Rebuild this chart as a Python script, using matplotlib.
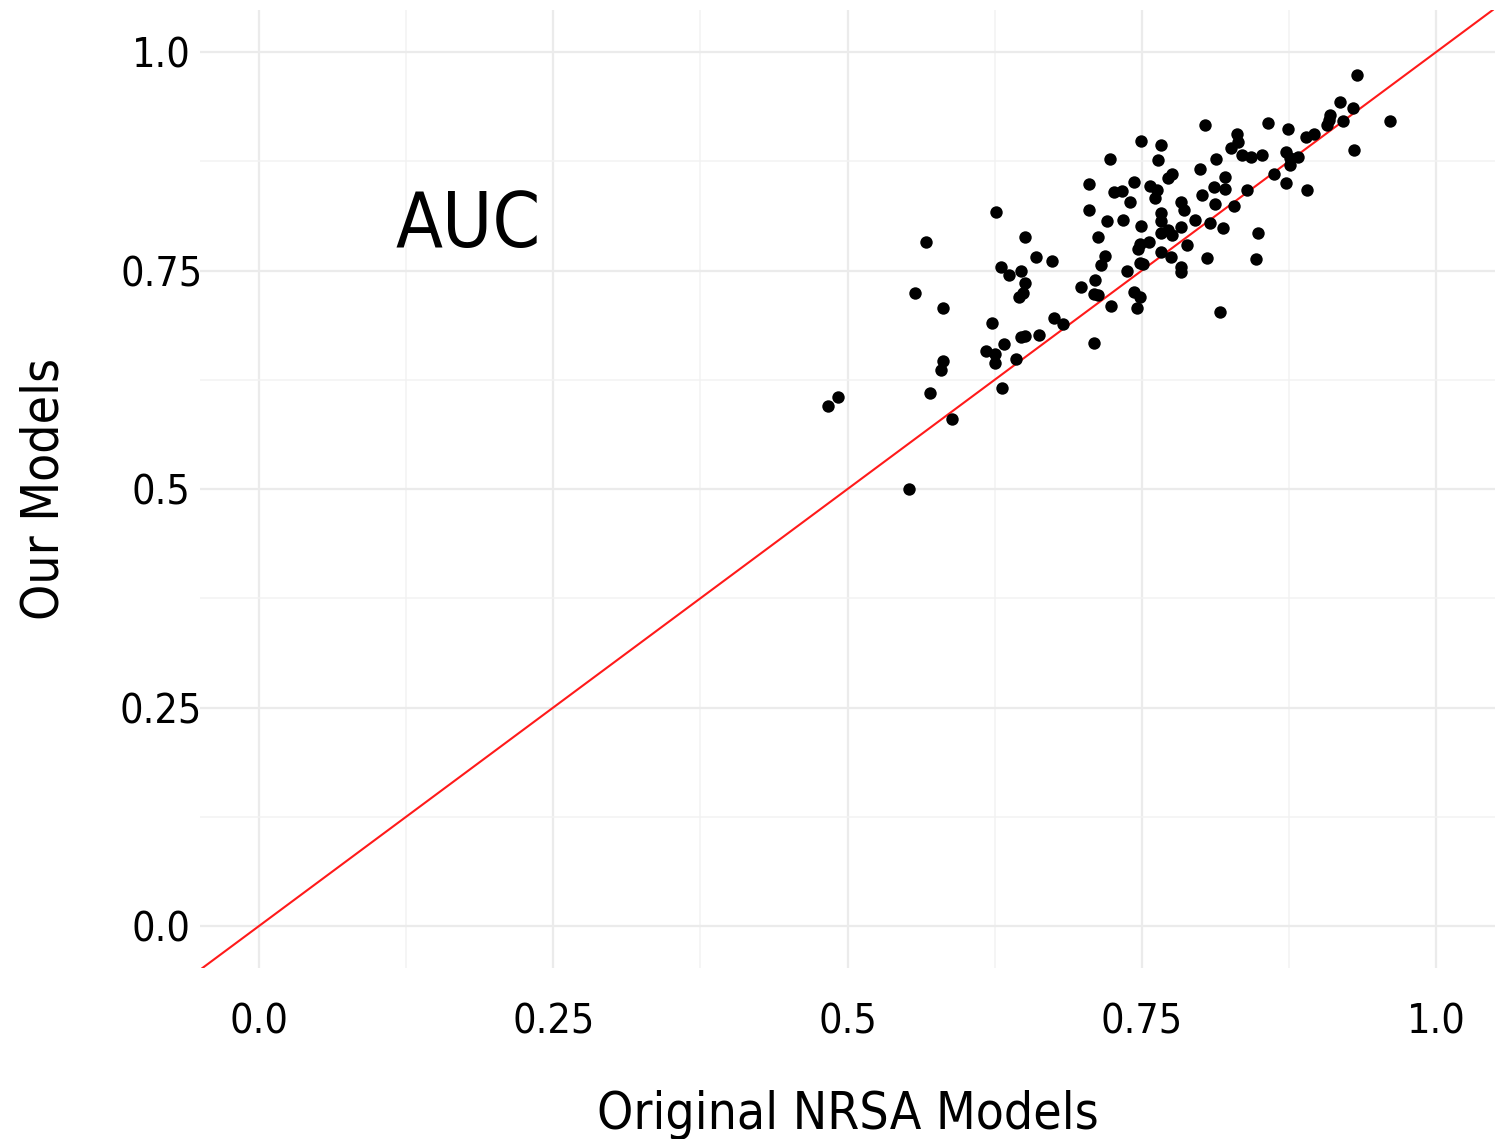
import matplotlib.pyplot as plt
from matplotlib.ticker import FixedLocator

plt.rcParams['font.family'] = 'DejaVu Sans'
plt.rcParams['font.stretch'] = 'condensed'

# AUC of the original NRSA models (x) vs. our models (y), one point per model
orig_auc = [
    0.483, 0.492, 0.552, 0.557, 0.567, 0.570, 0.581, 0.581, 0.579, 0.589,
    0.626, 0.651, 0.660, 0.674, 0.630, 0.637, 0.647, 0.651, 0.649, 0.646,
    0.623, 0.618, 0.625, 0.625, 0.633, 0.643, 0.647, 0.651, 0.663, 0.631,
    0.675, 0.683, 0.698, 0.709, 0.710, 0.713, 0.709, 0.705, 0.705, 0.713,
    0.723, 0.749, 0.766, 0.764, 0.743, 0.726, 0.733, 0.740, 0.757, 0.763,
    0.761, 0.772, 0.776, 0.720, 0.734, 0.749, 0.766, 0.766, 0.766, 0.772,
    0.776, 0.783, 0.783, 0.786, 0.795, 0.808, 0.819, 0.849, 0.719, 0.715,
    0.748, 0.747, 0.756, 0.766, 0.775, 0.788, 0.805, 0.847, 0.748, 0.751,
    0.737, 0.783, 0.783, 0.724, 0.743, 0.748, 0.746, 0.816, 0.801, 0.811,
    0.812, 0.821, 0.821, 0.828, 0.839, 0.799, 0.813, 0.804, 0.857, 0.874,
    0.831, 0.832, 0.826, 0.835, 0.843, 0.852, 0.872, 0.876, 0.883, 0.876,
    0.862, 0.872, 0.890, 0.889, 0.896, 0.910, 0.909, 0.907, 0.918, 0.929,
    0.921, 0.933, 0.961, 0.930,
]
our_auc = [
    0.595, 0.605, 0.500, 0.724, 0.783, 0.610, 0.707, 0.647, 0.636, 0.580,
    0.817, 0.788, 0.765, 0.761, 0.754, 0.745, 0.749, 0.736, 0.724, 0.720,
    0.690, 0.658, 0.655, 0.644, 0.666, 0.649, 0.674, 0.675, 0.676, 0.616,
    0.696, 0.689, 0.731, 0.667, 0.739, 0.722, 0.723, 0.849, 0.819, 0.788,
    0.878, 0.898, 0.894, 0.876, 0.851, 0.840, 0.841, 0.828, 0.847, 0.842,
    0.833, 0.856, 0.860, 0.807, 0.808, 0.801, 0.816, 0.807, 0.793, 0.796,
    0.791, 0.800, 0.828, 0.819, 0.808, 0.804, 0.799, 0.793, 0.767, 0.756,
    0.780, 0.775, 0.783, 0.771, 0.765, 0.779, 0.764, 0.763, 0.759, 0.757,
    0.749, 0.754, 0.748, 0.709, 0.725, 0.720, 0.707, 0.703, 0.836, 0.846,
    0.826, 0.857, 0.843, 0.824, 0.842, 0.866, 0.878, 0.917, 0.919, 0.912,
    0.906, 0.897, 0.890, 0.882, 0.880, 0.882, 0.886, 0.879, 0.880, 0.871,
    0.860, 0.850, 0.842, 0.903, 0.906, 0.928, 0.922, 0.917, 0.943, 0.936,
    0.921, 0.974, 0.921, 0.888,
]

# reference line y = x
line_intercept = 0.0
line_slope = 1.0

tick_values = [0.0, 0.25, 0.5, 0.75, 1.0]
tick_labels = ['0.0', '0.25', '0.5', '0.75', '1.0']
minor_values = [0.125, 0.375, 0.625, 0.875]

fig = plt.figure(figsize=(15.12, 11.39), dpi=100)
ax = fig.add_axes([0.1323, 0.1501, 0.8565, 0.8411])

ax.scatter(orig_auc, our_auc, s=80, color='black', linewidths=0, zorder=3)
ax.axline((0, line_intercept), slope=line_slope, color='#ff1a1a', linewidth=1.5, zorder=2)

ax.set_xlim(-0.05, 1.05)
ax.set_ylim(-0.048, 1.048)

ax.xaxis.set_major_locator(FixedLocator(tick_values))
ax.yaxis.set_major_locator(FixedLocator(tick_values))
ax.xaxis.set_minor_locator(FixedLocator(minor_values))
ax.yaxis.set_minor_locator(FixedLocator(minor_values))
ax.set_xticklabels(tick_labels)
ax.set_yticklabels(tick_labels)

ax.grid(which='major', color='#ebebeb', linewidth=1.6)
ax.grid(which='minor', color='#f2f2f2', linewidth=1.1)
ax.set_axisbelow(True)
for s in ax.spines.values():
    s.set_visible(False)

ax.tick_params(axis='both', which='both', length=0, labelsize=29.5, labelcolor='black')
ax.tick_params(axis='x', pad=25)
ax.tick_params(axis='y', pad=28)
for lbl in ax.get_yticklabels():
    lbl.set_horizontalalignment('center')

ax.set_xlabel('Original NRSA Models', fontsize=37, labelpad=34)
ax.set_ylabel('Our Models', fontsize=37, labelpad=36)

ax.text(0.178, 0.801, 'AUC', fontsize=55, ha='center', va='center')

fig.savefig('out.png', dpi=100)
